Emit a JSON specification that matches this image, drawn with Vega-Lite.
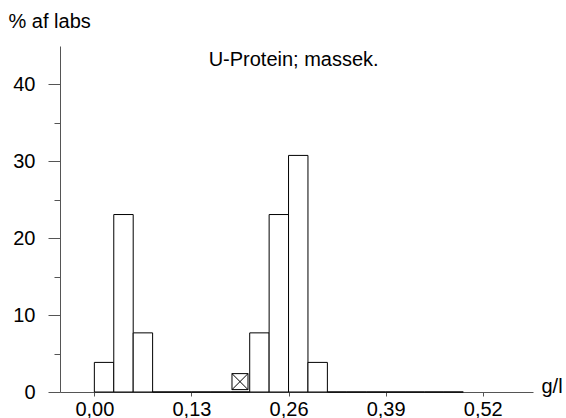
{
  "$schema": "https://vega.github.io/schema/vega-lite/v6.json",
  "width": 473,
  "height": 346,
  "autosize": {"type": "none"},
  "padding": {"left": 60, "top": 46, "right": 33, "bottom": 26},
  "background": "white",
  "config": {
    "view": {"stroke": null},
    "font": "Liberation Sans",
    "axis": {"labelFont": "Liberation Sans", "titleFont": "Liberation Sans", "labelColor": "black", "titleColor": "black", "labelFontSize": 20, "titleFontSize": 20, "titleFontWeight": "normal", "domainColor": "#555555", "tickColor": "#555555", "grid": false}
  },
  "datasets": {
    "bins": [
      {"start": 0.0, "end": 0.026, "pct": 3.85},
      {"start": 0.026, "end": 0.052, "pct": 23.08},
      {"start": 0.052, "end": 0.078, "pct": 7.69},
      {"start": 0.078, "end": 0.104, "pct": 0},
      {"start": 0.104, "end": 0.13, "pct": 0},
      {"start": 0.13, "end": 0.156, "pct": 0},
      {"start": 0.156, "end": 0.182, "pct": 0},
      {"start": 0.182, "end": 0.208, "pct": 0},
      {"start": 0.208, "end": 0.234, "pct": 7.69},
      {"start": 0.234, "end": 0.26, "pct": 23.08},
      {"start": 0.26, "end": 0.286, "pct": 30.77},
      {"start": 0.286, "end": 0.312, "pct": 3.85},
      {"start": 0.312, "end": 0.338, "pct": 0},
      {"start": 0.338, "end": 0.364, "pct": 0},
      {"start": 0.364, "end": 0.39, "pct": 0},
      {"start": 0.39, "end": 0.416, "pct": 0},
      {"start": 0.416, "end": 0.442, "pct": 0},
      {"start": 0.442, "end": 0.468, "pct": 0},
      {"start": 0.468, "end": 0.494, "pct": 0}
    ],
    "marker": [{"value": 0.195, "level": 1.35}],
    "heading": [{"value": 0.153, "level": 42.4, "label": "U-Protein; massek."}]
  },
  "layer": [
    {
      "data": {"name": "bins"},
      "mark": {"type": "bar", "fill": "white", "stroke": "black", "strokeWidth": 1, "orient": "vertical"},
      "encoding": {
        "x": {
          "field": "start", "type": "quantitative",
          "scale": {"domain": [-0.0393, 0.5806], "nice": false, "zero": false},
          "axis": {
            "values": [0, 0.13, 0.26, 0.39, 0.52],
            "labelExpr": "replace(format(datum.value, '.2f'), '.', ',')",
            "tickSize": 4, "labelPadding": 3, "labelFlush": false,
            "title": "g/l", "titleX": 481, "titleY": 0, "titleAlign": "left", "titleBaseline": "alphabetic", "titleAngle": 0
          }
        },
        "x2": {"field": "end"},
        "y": {
          "field": "pct", "type": "quantitative",
          "scale": {"domain": [0, 45], "nice": false},
          "axis": {
            "values": [0, 5, 10, 15, 20, 25, 30, 35, 40],
            "labelExpr": "datum.value % 10 === 0 ? datum.label : ''",
            "tickSize": {"condition": {"test": "datum.value % 10 === 0", "value": 12}, "value": 6},
            "labelPadding": 13, "labelBaseline": "middle",
            "title": "% af labs", "titleX": -52, "titleY": -19, "titleAlign": "left", "titleBaseline": "alphabetic", "titleAngle": 0
          }
        },
        "y2": {"datum": 0}
      }
    },
    {
      "data": {"name": "marker"},
      "mark": {"type": "point", "shape": "M-1,-1H1V1H-1ZM-1,-1L1,1M-1,1L1,-1", "size": 256, "filled": false, "stroke": "black", "strokeWidth": 1, "opacity": 1},
      "encoding": {
        "x": {"field": "value", "type": "quantitative"},
        "y": {"field": "level", "type": "quantitative"}
      }
    },
    {
      "data": {"name": "heading"},
      "mark": {"type": "text", "align": "left", "baseline": "alphabetic", "fontSize": 20, "font": "Liberation Sans", "color": "black"},
      "encoding": {
        "x": {"field": "value", "type": "quantitative"},
        "y": {"field": "level", "type": "quantitative"},
        "text": {"field": "label"}
      }
    }
  ]
}
